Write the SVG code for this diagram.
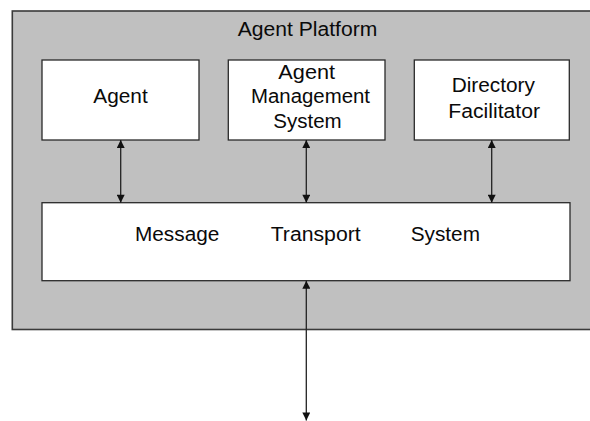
<svg xmlns="http://www.w3.org/2000/svg" width="590" height="421" viewBox="0 0 590 421">
<style>
.box{fill:#ffffff;stroke:#2a2a2a;stroke-width:1.3}
.plat{fill:#c0c0c0;stroke:#3a3a3a;stroke-width:1.6}
.t{font-family:"Liberation Sans",Arial,sans-serif;font-size:19.5px;fill:#0a0a0a}
.c{stroke:#222222;stroke-width:1.3;fill:none;marker-start:url(#ah);marker-end:url(#ah)}
</style>
<defs>
<marker id="ah" viewBox="0 0 10 10" refX="10" refY="5" markerWidth="10" markerHeight="8" markerUnits="userSpaceOnUse" orient="auto-start-reverse">
<path d="M0,0 L10,5 L0,10 z" fill="#111111"/>
</marker>
</defs>
<rect width="590" height="421" fill="#ffffff"/>
<g id="platform">
<rect class="plat" x="12.3" y="11" width="590" height="318.5"/>
<text class="t" x="307.5" y="35.7" text-anchor="middle" textLength="139.6" lengthAdjust="spacingAndGlyphs">Agent Platform</text>
</g>
<g id="agent">
<rect class="box" x="42" y="60" width="157" height="80"/>
<text class="t" x="120.5" y="103.3" text-anchor="middle" textLength="54.4" lengthAdjust="spacingAndGlyphs">Agent</text>
</g>
<g id="ams">
<rect class="box" x="228.3" y="60" width="156.7" height="80"/>
<text class="t" x="306.7" y="79" text-anchor="middle" textLength="56.7" lengthAdjust="spacingAndGlyphs">Agent</text>
<text class="t" x="310.5" y="103.3" text-anchor="middle" textLength="119" lengthAdjust="spacingAndGlyphs">Management</text>
<text class="t" x="307.5" y="128.3" text-anchor="middle" textLength="68.4" lengthAdjust="spacingAndGlyphs">System</text>
</g>
<g id="df">
<rect class="box" x="414.3" y="60" width="155" height="80"/>
<text class="t" x="493.3" y="91.7" text-anchor="middle" textLength="83.3" lengthAdjust="spacingAndGlyphs">Directory</text>
<text class="t" x="494.2" y="118.3" text-anchor="middle" textLength="91.7" lengthAdjust="spacingAndGlyphs">Facilitator</text>
</g>
<g id="mts">
<rect class="box" x="42" y="202.7" width="528" height="78"/>
<text class="t" x="135" y="241" textLength="84.3" lengthAdjust="spacingAndGlyphs">Message</text>
<text class="t" x="270.7" y="241" textLength="90" lengthAdjust="spacingAndGlyphs">Transport</text>
<text class="t" x="410.7" y="241" textLength="69.3" lengthAdjust="spacingAndGlyphs">System</text>
</g>
<g id="connectors">
<line class="c" x1="120.7" y1="140" x2="120.7" y2="202.7"/>
<line class="c" x1="306.3" y1="140" x2="306.3" y2="202.7"/>
<line class="c" x1="491.7" y1="140" x2="491.7" y2="202.7"/>
<line class="c" x1="306.3" y1="280.7" x2="306.3" y2="420.5"/>
</g>
</svg>
